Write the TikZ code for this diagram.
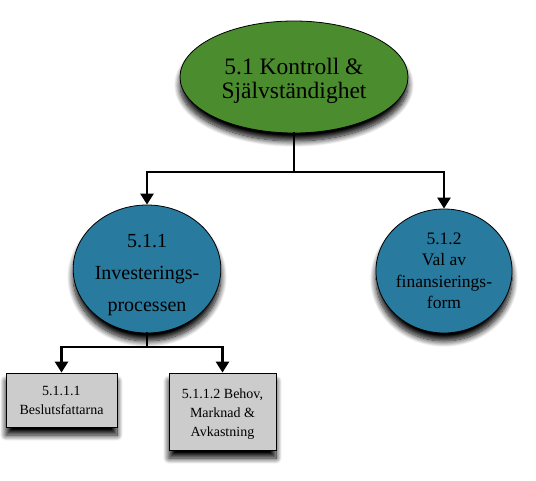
\documentclass[tikz,border=0pt]{standalone}
\usepackage{fontspec}
\setmainfont{Liberation Serif}
\usetikzlibrary{arrows.meta,shadows.blur,shapes.geometric}
\definecolor{topgreen}{RGB}{74,140,46}
\definecolor{circblue}{RGB}{40,122,158}
\definecolor{boxgray}{RGB}{204,204,204}
\tikzset{
  shad/.style={blur shadow={shadow xshift=0pt,shadow yshift=-8pt,shadow blur steps=12,shadow blur radius=6pt,shadow opacity=100}},
  topnode/.style={ellipse,draw=black,line width=0.8pt,fill=topgreen,minimum width=228pt,minimum height=112pt,inner sep=0pt,align=center,font=\fontsize{23.5}{26}\selectfont,shad},
  circnode/.style={ellipse,draw=black,line width=0.8pt,fill=circblue,inner sep=0pt,align=center,shad},
  boxnode/.style={rectangle,draw=black,line width=0.8pt,fill=boxgray,inner sep=0pt,align=center,font=\fontsize{14}{19}\selectfont,shad},
  conn/.style={line width=2.6pt,line cap=rect},
  arr/.style={line width=2.6pt,-{Triangle[width=13pt,length=11pt]}}
}
\begin{document}
\begin{tikzpicture}[x=1pt,y=-1pt]
\useasboundingbox (0,0) rectangle (536,481);
\node[topnode] (top) at (294,77) {\raisebox{-10.4pt}[0pt][0pt]{\begin{tabular}{@{}c@{}}5.1 Kontroll \&\\[-2pt]Självständighet\end{tabular}}};
\node[circnode,minimum width=122pt,minimum height=128pt,font=\fontsize{20}{28}\selectfont] (c1) at (147,269) {\raisebox{-10pt}[0pt][0pt]{\begin{tabular}{@{}c@{}}5.1.1\\[4pt]Investerings-\\[4pt]processen\end{tabular}}};
\node[circnode,minimum width=130pt,minimum height=124pt,font=\fontsize{17.5}{21.5}\selectfont] (c2) at (444,271) {5.1.2\\Val av\\finansierings-\\form};
\node[boxnode,minimum width=111pt,minimum height=54pt] (b1) at (61.5,400) {5.1.1.1\\Beslutsfattarna};
\node[boxnode,minimum width=107pt,minimum height=77pt] (b2) at (222.5,411.5) {\raisebox{-6pt}[0pt][0pt]{\begin{tabular}{@{}c@{}}5.1.1.2 Behov,\\Marknad \&\\Avkastning\end{tabular}}};
\coordinate (j1) at (294,172);
\coordinate (j2) at (147,347);
\draw[conn] (top.south) -- (j1);
\draw[arr] (j1) -| (c1.north);
\draw[arr] (j1) -| (c2.north);
\draw[conn] (c1.south) -- (j2);
\draw[arr] (j2) -| (b1.north);
\draw[arr] (j2) -| (b2.north);
\end{tikzpicture}
\end{document}
